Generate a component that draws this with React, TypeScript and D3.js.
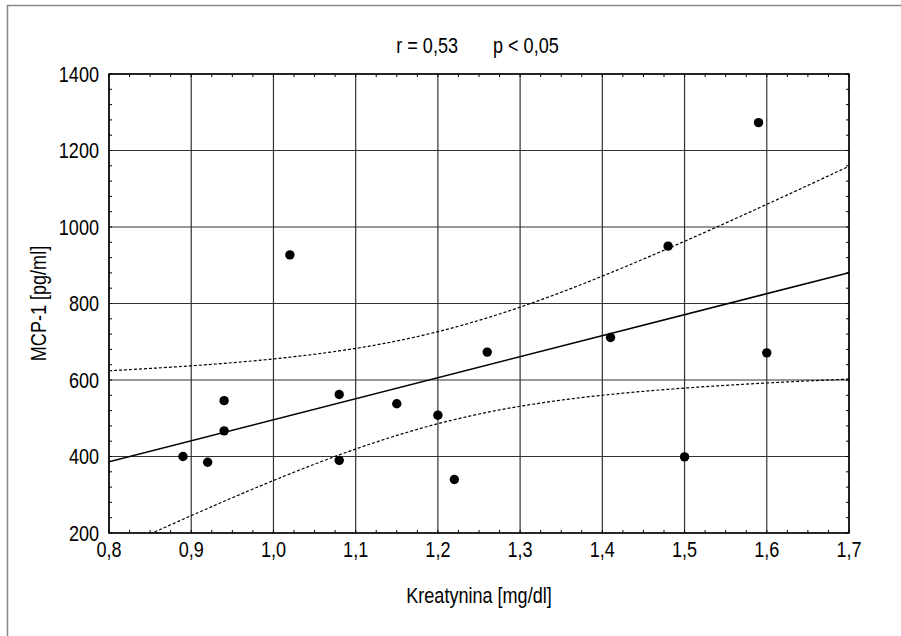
import React from "react";
import * as d3 from "d3";

const kreatynina = [0.89, 0.92, 0.94, 0.94, 1.02, 1.08, 1.08, 1.15, 1.2, 1.22, 1.26, 1.41, 1.48, 1.5, 1.59, 1.6];
const mcp1 = [400, 385, 467, 546, 927, 562, 390, 538, 508, 340, 673, 711, 950, 399, 1273, 671];
const xTicks = [0.8, 0.9, 1.0, 1.1, 1.2, 1.3, 1.4, 1.5, 1.6, 1.7];
const yTicks = [200, 400, 600, 800, 1000, 1200, 1400];
const titleR = "r = 0,53";
const titleP = "p < 0,05";
const xTitle = "Kreatynina [mg/dl]";
const yTitle = "MCP-1 [pg/ml]";
const tCrit = 2.145;

const W = 901, H = 636;
const L = 109, R = 849, T = 74, B = 533;
const FONT = "'Liberation Sans', Arial, sans-serif";
const SX = 0.84;

function T2({ x, y, anchor = "start", rotate = 0, children }: { x: number; y: number; anchor?: string; rotate?: number; children: React.ReactNode }) {
  return (
    <g transform={`translate(${x},${y}) rotate(${rotate}) scale(${SX},1)`}>
      <text x={0} y={0} textAnchor={anchor as any} fontSize={21.5} fill="#000" fontFamily={FONT}>
        {children}
      </text>
    </g>
  );
}

export default function App() {
  const x = d3.scaleLinear().domain([0.8, 1.7]).range([L, R]);
  const y = d3.scaleLinear().domain([200, 1400]).range([B, T]);

  const n = kreatynina.length;
  const mx = d3.mean(kreatynina) as number;
  const my = d3.mean(mcp1) as number;
  let sxx = 0, sxy = 0, syy = 0;
  for (let i = 0; i < n; i++) {
    const dx = kreatynina[i] - mx, dy = mcp1[i] - my;
    sxx += dx * dx; sxy += dx * dy; syy += dy * dy;
  }
  const b = sxy / sxx;
  const a = my - b * mx;
  const s = Math.sqrt((syy - b * sxy) / (n - 2));
  const xs = d3.range(0, 181).map((i) => 0.8 + (0.9 * i) / 180);
  const band = (sign: number) =>
    xs.map((v) => {
      const fit = a + b * v;
      const se = s * Math.sqrt(1 / n + ((v - mx) * (v - mx)) / sxx);
      return [v, fit + sign * tCrit * se] as [number, number];
    });
  const line = d3.line<[number, number]>().x((d) => x(d[0])).y((d) => y(d[1]));

  const xMinor = d3.range(0.8, 1.7001, 0.025);
  const yMinor = d3.range(200, 1400.01, 40);
  const fmt = (v: number) => d3.format(".1f")(v).replace(".", ",");

  return (
    <svg width={W} height={H} style={{ position: "absolute", left: 0, top: 0, background: "#fff" }}>
      <line x1={7} y1={5.5} x2={W} y2={5.5} stroke="#888" strokeWidth={1.5} />
      <line x1={7.5} y1={5} x2={7.5} y2={H} stroke="#888" strokeWidth={1.5} />
      <defs>
        <clipPath id="plot">
          <rect x={L} y={T} width={R - L} height={B - T} />
        </clipPath>
      </defs>
      {xTicks.map((t) => (
        <line key={"gx" + t} x1={x(t)} x2={x(t)} y1={T} y2={B} stroke="#333" strokeWidth={1.2} />
      ))}
      {yTicks.map((t) => (
        <line key={"gy" + t} x1={L} x2={R} y1={y(t)} y2={y(t)} stroke="#333" strokeWidth={1.2} />
      ))}
      {xMinor.map((t, i) => (
        <g key={"mx" + i}>
          <line x1={x(t)} x2={x(t)} y1={B} y2={B - 3} stroke="#000" strokeWidth={1} />
          <line x1={x(t)} x2={x(t)} y1={T} y2={T + 3} stroke="#000" strokeWidth={1} />
        </g>
      ))}
      {yMinor.map((t, i) => (
        <g key={"my" + i}>
          <line x1={L} x2={L + 3} y1={y(t)} y2={y(t)} stroke="#000" strokeWidth={1} />
          <line x1={R} x2={R - 3} y1={y(t)} y2={y(t)} stroke="#000" strokeWidth={1} />
        </g>
      ))}
      <g clipPath="url(#plot)">
        <path d={line([[0.8, a + b * 0.8], [1.7, a + b * 1.7]]) || ""} fill="none" stroke="#000" strokeWidth={1.5} />
        <path d={line(band(1)) || ""} fill="none" stroke="#000" strokeWidth={1.2} strokeDasharray="3,2" />
        <path d={line(band(-1)) || ""} fill="none" stroke="#000" strokeWidth={1.2} strokeDasharray="3,2" />
      </g>
      <rect x={L} y={T} width={R - L} height={B - T} fill="none" stroke="#000" strokeWidth={1.5} />
      {kreatynina.map((v, i) => (
        <circle key={"p" + i} cx={x(v)} cy={y(mcp1[i])} r={4.7} fill="#000" />
      ))}
      {xTicks.map((t) => (
        <T2 key={"tx" + t} x={x(t)} y={557} anchor="middle">{fmt(t)}</T2>
      ))}
      {yTicks.map((t) => (
        <T2 key={"ty" + t} x={99} y={y(t) + 7.8} anchor="end">{t}</T2>
      ))}
      <T2 x={(L + R) / 2} y={603} anchor="middle">{xTitle}</T2>
      <T2 x={46} y={(T + B) / 2} anchor="middle" rotate={-90}>{yTitle}</T2>
      <T2 x={458} y={53} anchor="end">{titleR}</T2>
      <T2 x={493} y={53} anchor="start">{titleP}</T2>
    </svg>
  );
}
